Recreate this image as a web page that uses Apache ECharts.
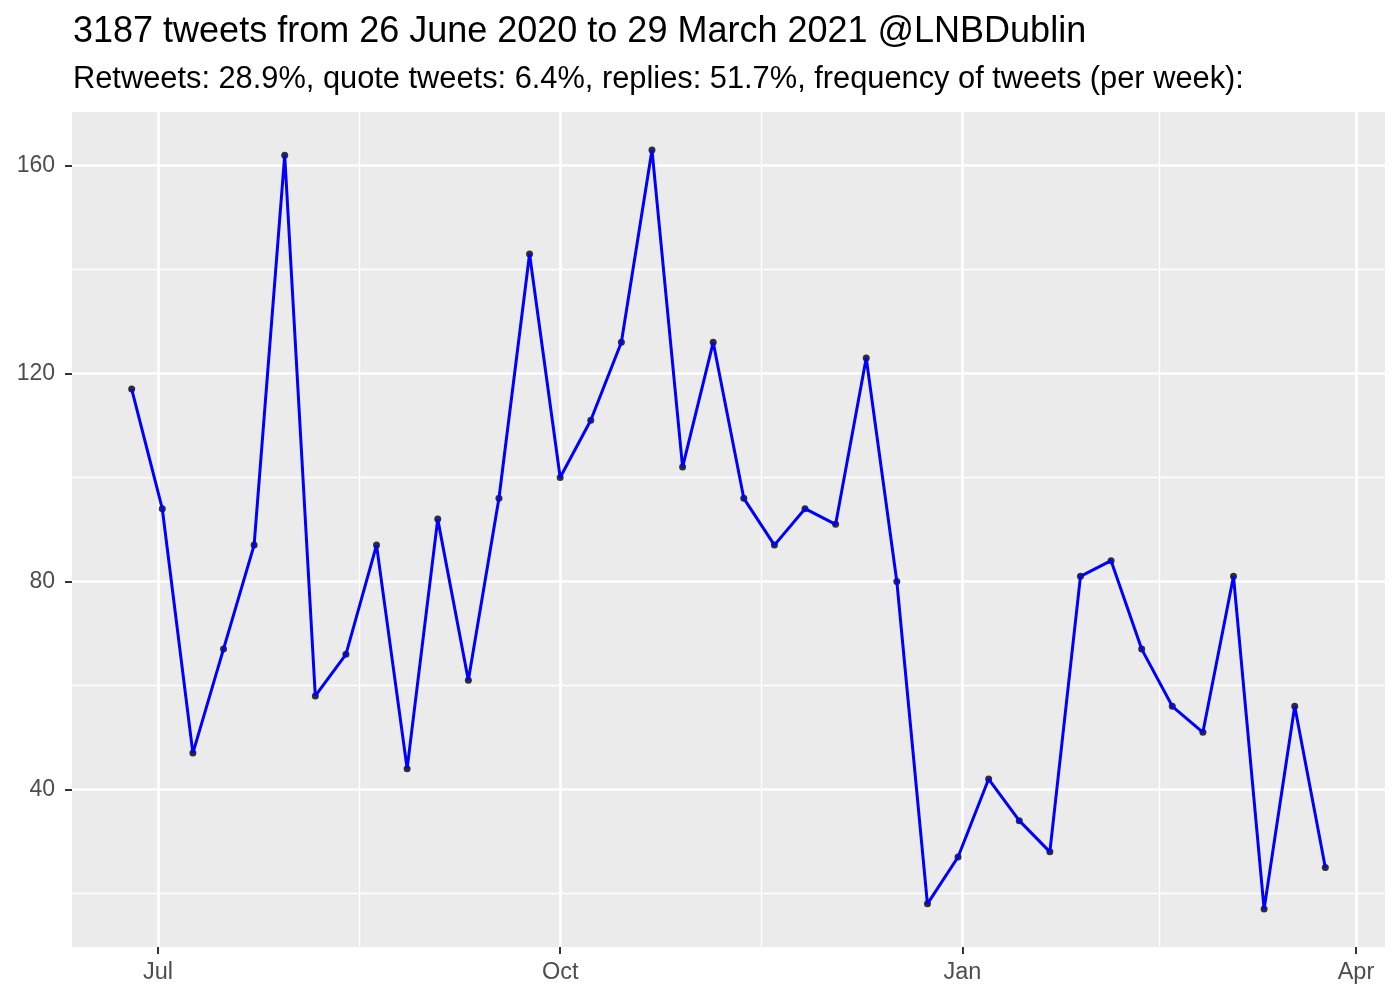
<!DOCTYPE html>
<html>
<head>
<meta charset="utf-8">
<title>@LNBDublin tweets per week</title>
<script src="https://cdn.jsdelivr.net/npm/echarts@6/dist/echarts.min.js"></script>
<style>
  html, body { margin: 0; padding: 0; background: #fff; }
  #chart { width: 1400px; height: 1000px; }
</style>
</head>
<body>
<div id="chart"></div>
<script>
// weekly buckets (start of week)
const weeks = [
  '2020-06-25', '2020-07-02', '2020-07-09', '2020-07-16', '2020-07-23',
  '2020-07-30', '2020-08-06', '2020-08-13', '2020-08-20', '2020-08-27',
  '2020-09-03', '2020-09-10', '2020-09-17', '2020-09-24', '2020-10-01',
  '2020-10-08', '2020-10-15', '2020-10-22', '2020-10-29', '2020-11-05',
  '2020-11-12', '2020-11-19', '2020-11-26', '2020-12-03', '2020-12-10',
  '2020-12-17', '2020-12-24', '2020-12-31', '2021-01-07', '2021-01-14',
  '2021-01-21', '2021-01-28', '2021-02-04', '2021-02-11', '2021-02-18',
  '2021-02-25', '2021-03-04', '2021-03-11', '2021-03-18', '2021-03-25'
]
// tweets per week
const tweetCounts = [
  117, 94, 47, 67, 87, 162, 58, 66, 87, 44,
  92, 61, 96, 143, 100, 111, 126, 163, 102, 126,
  96, 87, 94, 91, 123, 80, 18, 27, 42, 34,
  28, 81, 84, 67, 56, 51, 81, 17, 56, 25
]
const monthBreaks = ['2020-07-01', '2020-10-01', '2021-01-01', '2021-04-01']
const monthLabels = ['Jul', 'Oct', 'Jan', 'Apr']
const monthMinorBreaks = ['2020-08-16', '2020-11-16', '2021-02-15']
const yBreaks = [40, 80, 120, 160]
const yMinorBreaks = [20, 60, 100, 140]

const titleText = '3187 tweets from 26 June 2020 to 29 March 2021 @LNBDublin'
const subtitleText = 'Retweets: 28.9%, quote tweets: 6.4%, replies: 51.7%, frequency of tweets (per week):'

const toTs = s => Date.parse(s + 'T00:00:00Z')
const points = weeks.map((w, i) => [toTs(w), tweetCounts[i]])

// ggplot-like 5% expansion
const xs = points.map(p => p[0])
const ys = tweetCounts
const xSpan = Math.max(...xs) - Math.min(...xs)
const ySpan = Math.max(...ys) - Math.min(...ys)
const xMin = Math.min(...xs) - 0.05 * xSpan
const xMax = Math.max(...xs) + 0.05 * xSpan
const yMin = Math.min(...ys) - 0.05 * ySpan
const yMax = Math.max(...ys) + 0.05 * ySpan

const labelColor = '#4D4D4D'
const fontFamily = '"Liberation Sans", Arial, Helvetica, sans-serif'
const monthTs = monthBreaks.map(toTs)

const chart = echarts.init(document.getElementById('chart'))
const option = {
  backgroundColor: '#ffffff',
  animation: false,
  title: [
    {
      text: titleText,
      left: 68,
      top: 9,
      textStyle: { fontFamily: fontFamily, fontSize: 36, fontWeight: 'normal', color: '#000' }
    },
    {
      text: subtitleText,
      left: 68,
      top: 59,
      textStyle: { fontFamily: fontFamily, fontSize: 30.8, fontWeight: 'normal', color: '#000' }
    }
  ],
  grid: {
    left: 72,
    right: 15,
    top: 112,
    bottom: 53,
    show: true,
    backgroundColor: '#EBEBEB',
    borderWidth: 0
  },
  xAxis: [
    {
      type: 'value',
      min: xMin,
      max: xMax,
      axisLine: { show: false },
      axisTick: {
        show: true,
        length: 7,
        lineStyle: { color: '#333333', width: 2 },
        customValues: monthTs
      },
      axisLabel: {
        color: labelColor,
        fontFamily: fontFamily,
        fontSize: 23.5,
        margin: 14,
        customValues: monthTs,
        formatter: v => monthLabels[monthTs.indexOf(v)]
      },
      splitLine: { show: true, lineStyle: { color: '#ffffff', width: 2.6 } }
    },
    {
      type: 'value',
      min: xMin,
      max: xMax,
      position: 'bottom',
      axisLine: { show: false },
      axisTick: { show: false, customValues: monthMinorBreaks.map(toTs) },
      axisLabel: { show: false, customValues: monthMinorBreaks.map(toTs) },
      splitLine: { show: true, lineStyle: { color: '#ffffff', width: 1.3 } }
    }
  ],
  yAxis: [
    {
      type: 'value',
      min: yMin,
      max: yMax,
      axisLine: { show: false },
      axisTick: {
        show: true,
        length: 7,
        lineStyle: { color: '#333333', width: 2 },
        customValues: yBreaks
      },
      axisLabel: {
        color: labelColor,
        fontFamily: fontFamily,
        fontSize: 23,
        margin: 17,
        customValues: yBreaks
      },
      splitLine: { show: true, lineStyle: { color: '#ffffff', width: 2.6 } }
    },
    {
      type: 'value',
      min: yMin,
      max: yMax,
      position: 'left',
      axisLine: { show: false },
      axisTick: { show: false, customValues: yMinorBreaks },
      axisLabel: { show: false, customValues: yMinorBreaks },
      splitLine: { show: true, lineStyle: { color: '#ffffff', width: 1.3 } }
    }
  ],
  series: [
    {
      name: 'points',
      type: 'scatter',
      data: points,
      symbol: 'circle',
      symbolSize: 7,
      itemStyle: { color: '#000000' },
      z: 2,
      silent: true
    },
    {
      name: 'tweets',
      type: 'line',
      data: points,
      showSymbol: false,
      lineStyle: { color: '#0000FF', width: 3 },
      z: 3,
      silent: true
    }
  ]
}
chart.setOption(option)
</script>
</body>
</html>
